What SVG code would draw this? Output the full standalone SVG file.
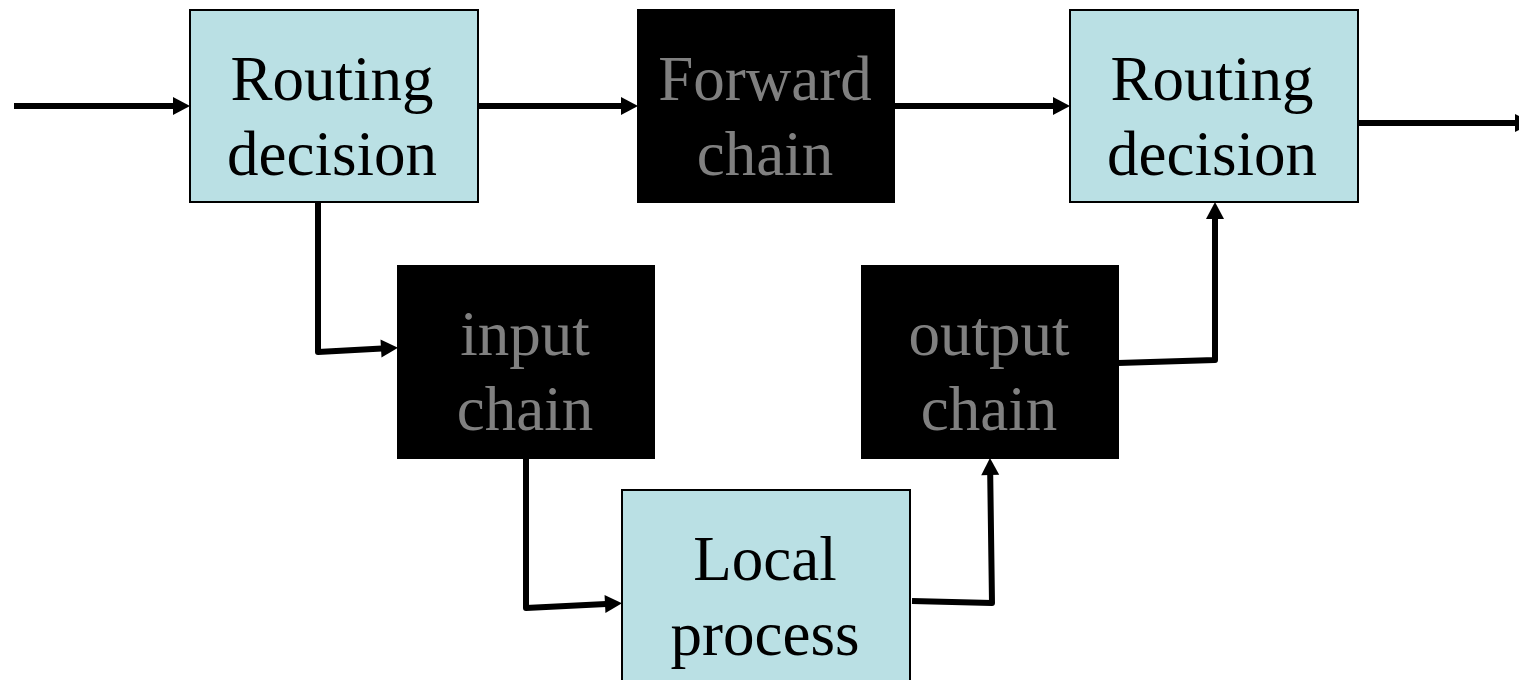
<svg xmlns="http://www.w3.org/2000/svg" width="1519" height="680" viewBox="0 0 1519 680">
<style>
.lt{fill:#BAE0E4;stroke:#000;stroke-width:2}
.dk{fill:#000;stroke:#000;stroke-width:2}
text{font-family:"Liberation Serif","Times New Roman",serif;font-size:63px;text-anchor:middle}
.tl{fill:#000}
.td{fill:#808080}
.c{fill:none;stroke:#000;stroke-width:6;stroke-linejoin:round}
</style>
<defs>
<marker id="ah" markerWidth="18" markerHeight="18" refX="1" refY="9" orient="auto" markerUnits="userSpaceOnUse" overflow="visible">
<path d="M0,0 L17,9 L0,18 Z" fill="#000"/>
</marker>
</defs>
<rect width="1519" height="680" fill="#fff"/>
<g id="connectors">
<path class="c" d="M14,106 H174" marker-end="url(#ah)"/>
<path class="c" d="M478,106 H622" marker-end="url(#ah)"/>
<path class="c" d="M894,106 H1054" marker-end="url(#ah)"/>
<path class="c" d="M1358,123 H1516" marker-end="url(#ah)"/>
<path class="c" d="M318,202 V352 L382,348.5" marker-end="url(#ah)"/>
<path class="c" d="M526,458 V608 L606,604" marker-end="url(#ah)"/>
<path class="c" d="M912,601 L992,603 L990.2,474" marker-end="url(#ah)"/>
<path class="c" d="M1118,363 L1215,360 V218" marker-end="url(#ah)"/>
</g>
<g id="routing1">
<rect class="lt" x="190" y="10" width="288" height="192"/>
<text class="tl" x="332" y="100">Routing</text>
<text class="tl" x="332" y="175">decision</text>
</g>
<g id="forward">
<rect class="dk" x="638" y="10" width="256" height="192"/>
<text class="td" x="765" y="100">Forward</text>
<text class="td" x="765" y="175">chain</text>
</g>
<g id="routing2">
<rect class="lt" x="1070" y="10" width="288" height="192"/>
<text class="tl" x="1212" y="100">Routing</text>
<text class="tl" x="1212" y="175">decision</text>
</g>
<g id="input">
<rect class="dk" x="398" y="266" width="256" height="192"/>
<text class="td" x="525" y="355">input</text>
<text class="td" x="525" y="430">chain</text>
</g>
<g id="output">
<rect class="dk" x="862" y="266" width="256" height="192"/>
<text class="td" x="989" y="355">output</text>
<text class="td" x="989" y="430">chain</text>
</g>
<g id="local">
<rect class="lt" x="622" y="490" width="288" height="200"/>
<text class="tl" x="765" y="580">Local</text>
<text class="tl" x="765" y="655">process</text>
</g>
</svg>
